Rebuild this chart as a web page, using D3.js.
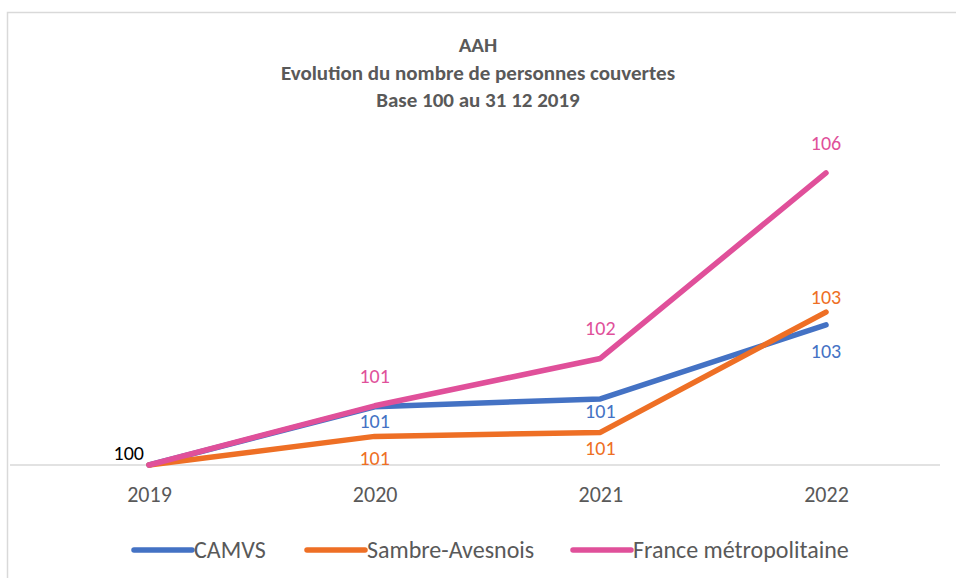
<!DOCTYPE html>
<html>
<head>
<meta charset="utf-8">
<script src="https://cdn.jsdelivr.net/npm/d3@7"></script>
<style>
  body { margin: 0; background: #fff; }
  text { font-family: Carlito, "Liberation Sans Narrow", "Open Sans", sans-serif; }
</style>
</head>
<body>
<div id="chart"></div>
<script>
// data (base 100 at 31/12/2019)
var years = ["2019", "2020", "2021", "2022"];
var camvs = [100, 101.18, 101.34, 102.84];
var sambre = [100, 100.58, 100.66, 103.1];
var france = [100, 101.2, 102.16, 105.92];
var seriesNames = ["CAMVS", "Sambre-Avesnois", "France métropolitaine"];
var colors = ["#4472c4", "#ee6f25", "#e0509a"];

var W = 956, H = 578;
var svg = d3.select("#chart").append("svg")
    .attr("width", W)
    .attr("height", H);

// chart border (only top and left show in the picture)
svg.append("path")
    .attr("d", "M7.5," + H + "V12.5H" + W)
    .attr("fill", "none")
    .attr("stroke", "#d9d9d9")
    .attr("stroke-width", 1.5);

// title
var titleLines = ["AAH", "Evolution du nombre de personnes couvertes", "Base 100 au 31 12 2019"];
svg.selectAll("text.title")
    .data(titleLines)
    .enter().append("text")
    .attr("class", "title")
    .attr("x", 478)
    .attr("y", function(d, i) { return 52 + i * 27.5; })
    .attr("text-anchor", "middle")
    .style("font-size", "21px")
    .style("font-weight", "bold")
    .style("fill", "#595959")
    .text(function(d) { return d; });

var x = d3.scalePoint()
    .domain(years)
    .range([149, 826]);

var y = d3.scaleLinear()
    .domain([100, 106])
    .range([465, 169]);

// baseline axis
svg.append("line")
    .attr("x1", 10).attr("x2", 940)
    .attr("y1", y(100)).attr("y2", y(100))
    .attr("stroke", "#d9d9d9")
    .attr("stroke-width", 1.5);

var xAxis = svg.append("g")
    .attr("transform", "translate(0," + y(100) + ")")
    .call(d3.axisBottom(x).tickSize(0).tickPadding(21));
xAxis.select(".domain").remove();
xAxis.selectAll("text")
    .style("font-family", "Carlito, 'Open Sans', sans-serif")
    .style("font-size", "22px")
    .style("fill", "#595959");

var allSeries = [camvs, sambre, france];
var line = d3.line()
    .x(function(d, i) { return x(years[i]); })
    .y(function(d) { return y(d); });

svg.selectAll("path.series")
    .data(allSeries)
    .enter().append("path")
    .attr("class", "series")
    .attr("d", line)
    .attr("fill", "none")
    .attr("stroke", function(d, i) { return colors[i]; })
    .attr("stroke-width", 5.5)
    .attr("stroke-linejoin", "round")
    .attr("stroke-linecap", "round");

// data labels: offset above (-) or below (+)
var labelPos = [
  [null, 14, 12, 26],
  [null, 22, 16, -15],
  [null, -30, -30, -30]
];
allSeries.forEach(function(s, k) {
  s.forEach(function(v, i) {
    if (i === 0) return;
    svg.append("text")
        .attr("x", x(years[i]))
        .attr("y", y(v) + labelPos[k][i])
        .attr("text-anchor", "middle")
        .attr("dy", ".35em")
        .style("font-family", "Carlito, 'Open Sans', sans-serif")
        .style("font-size", "20px")
        .style("fill", colors[k])
        .text(Math.round(v));
  });
});
svg.append("text")
    .attr("x", x(years[0]) - 5)
    .attr("y", y(100) - 12)
    .attr("dy", ".35em")
    .attr("text-anchor", "end")
    .style("font-family", "Carlito, 'Open Sans', sans-serif")
    .style("font-size", "20px")
    .style("fill", "#000")
    .text("100");

// legend
var legendX = [134, 307, 573];
var legend = svg.selectAll("g.legend")
    .data(seriesNames)
    .enter().append("g")
    .attr("class", "legend")
    .attr("transform", function(d, i) { return "translate(" + legendX[i] + ",550)"; });
legend.append("line")
    .attr("x1", 0).attr("x2", 58)
    .attr("stroke", function(d, i) { return colors[i]; })
    .attr("stroke-width", 5.5)
    .attr("stroke-linecap", "round");
legend.append("text")
    .attr("x", 60)
    .attr("dy", ".35em")
    .style("font-size", "24px")
    .style("fill", "#595959")
    .text(function(d) { return d; });
</script>
</body>
</html>
